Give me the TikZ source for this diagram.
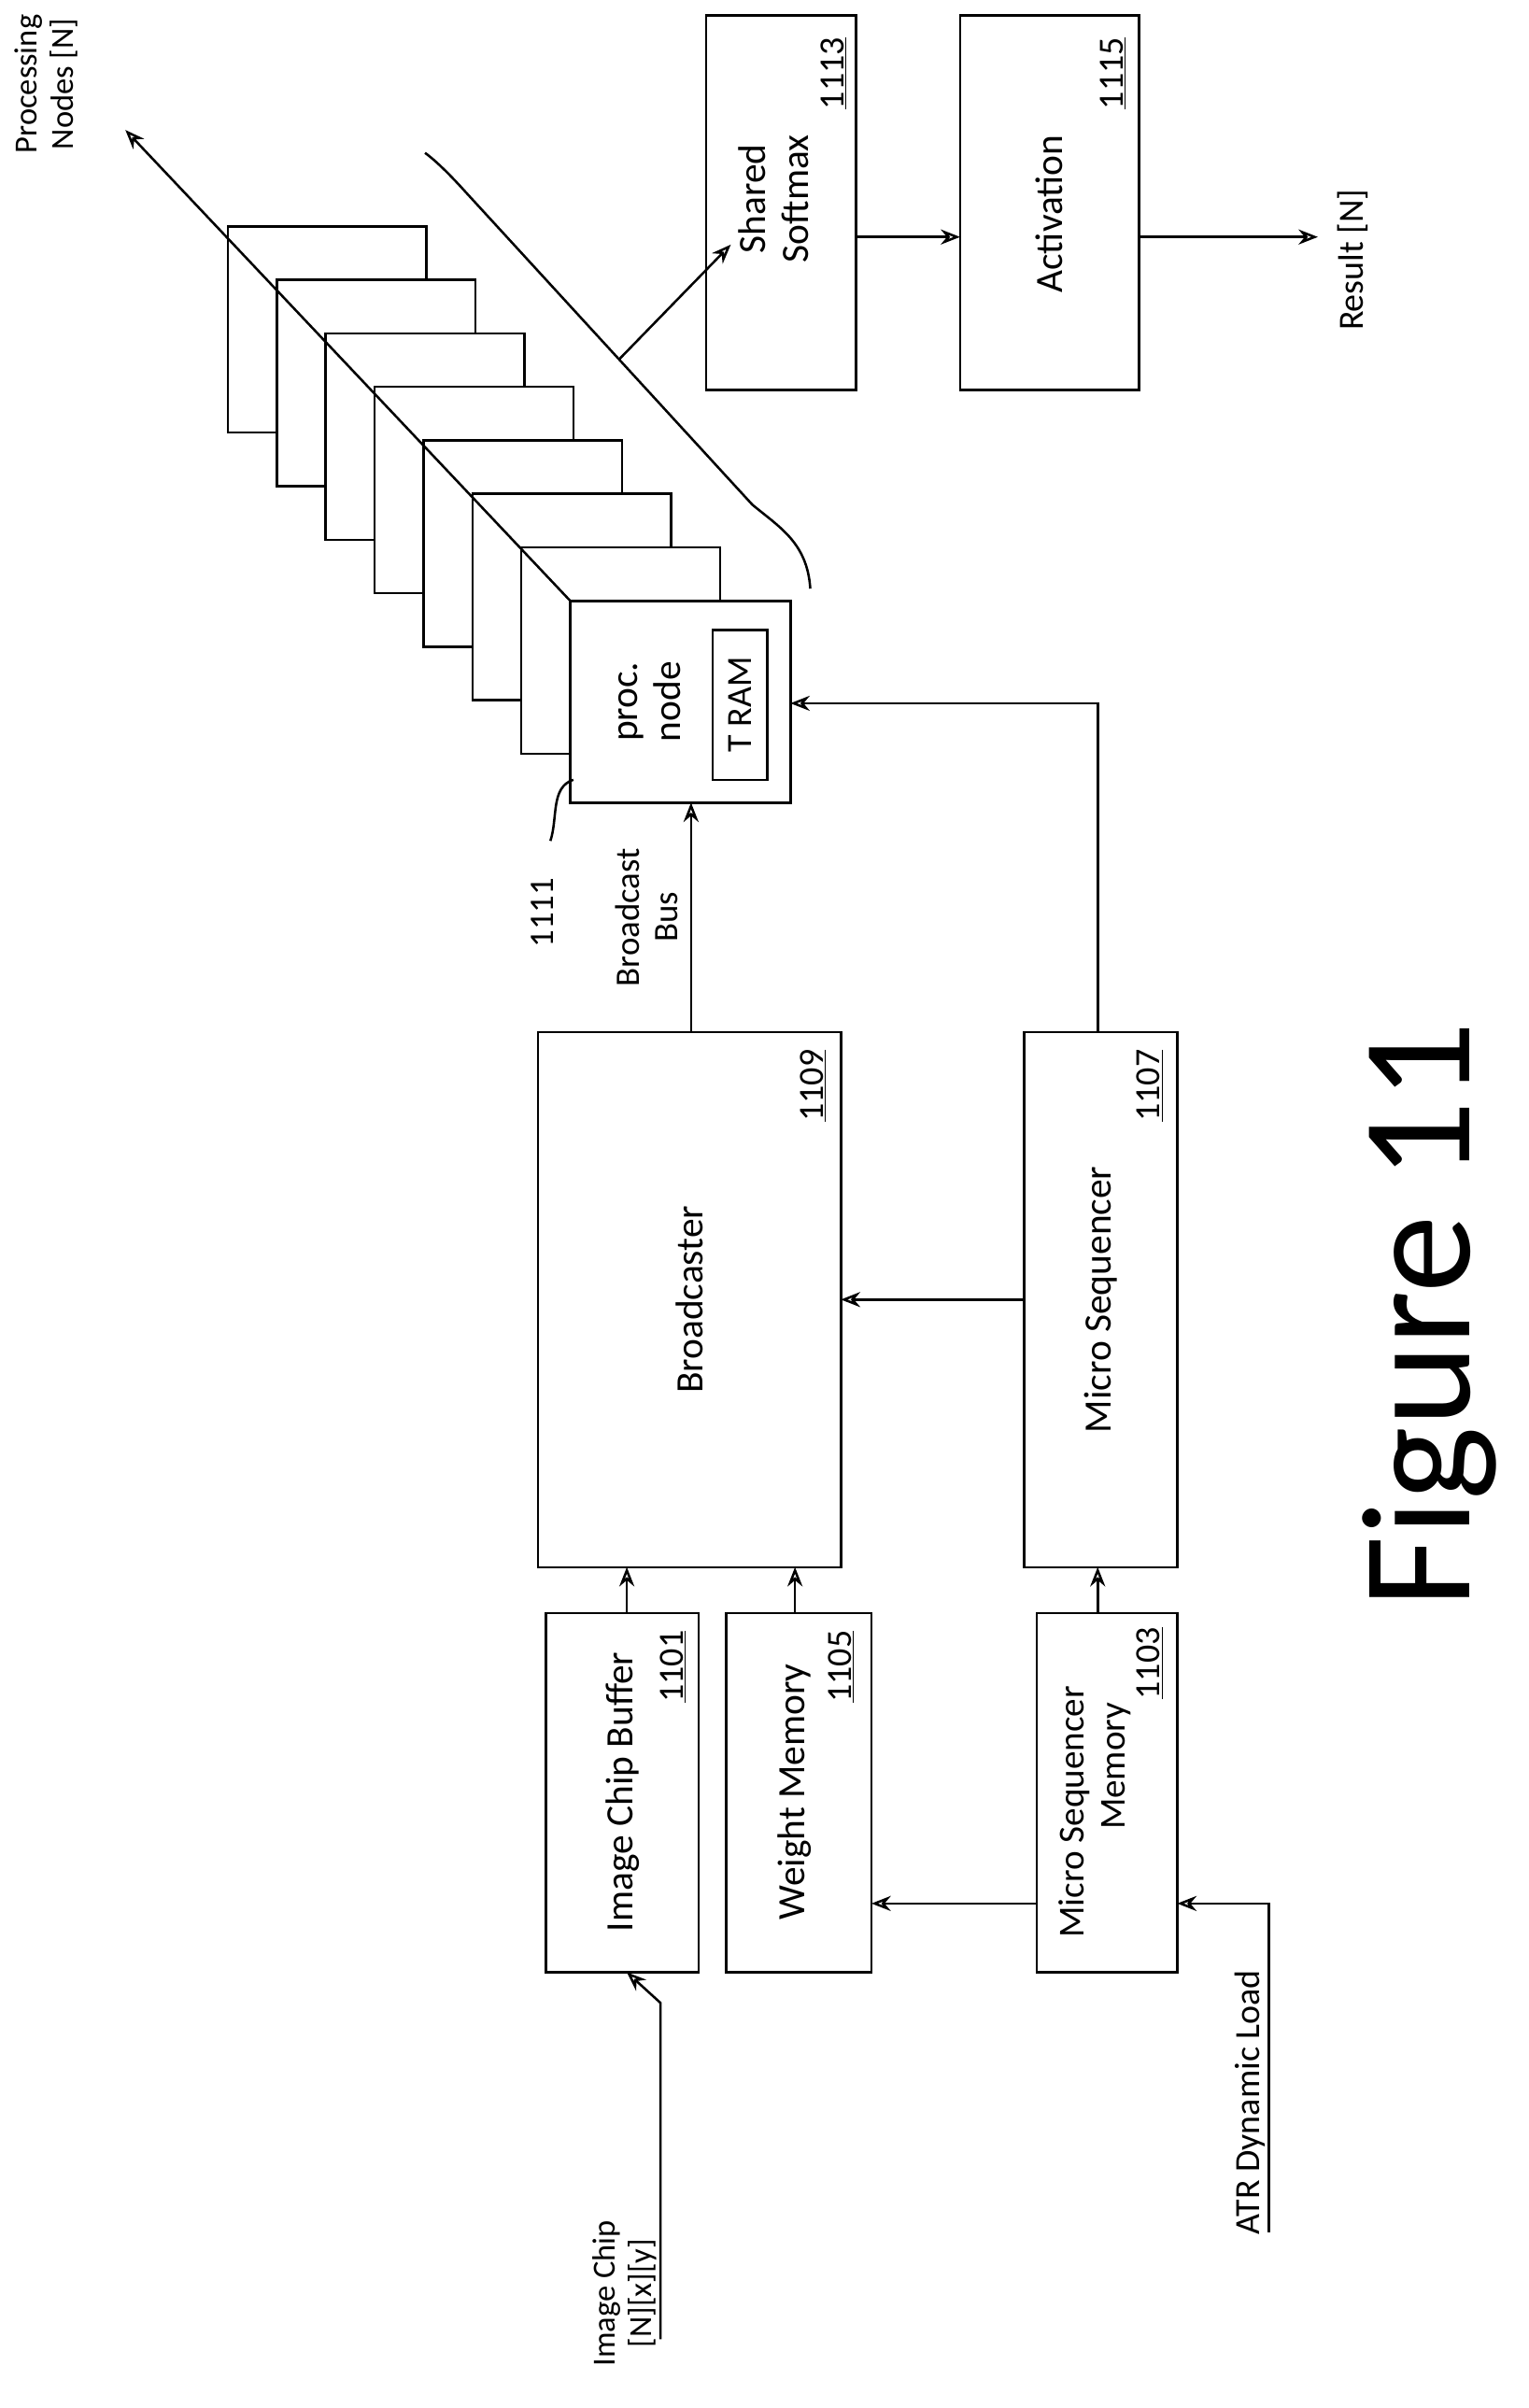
\documentclass[tikz,border=0pt]{standalone}
\usepackage{fontspec}
\setmainfont{Carlito}
\usetikzlibrary{arrows.meta}
\begin{document}
\begin{tikzpicture}[x=0.05cm,y=-0.05cm,
  box/.style={draw,line width=2.2pt,fill=white},
  lbl/.style={rotate=90,font=\fontsize{36}{40}\selectfont,align=center},
  num/.style={rotate=90,font=\fontsize{33}{37}\selectfont},
  arr/.style={line width=2.2pt,-{Stealth[length=18pt,width=14pt,open]}},
  ln/.style={line width=2.2pt}]
\useasboundingbox (0,0) rectangle (1000,1575);
% boxes
\draw[box] (357,1055) rectangle (457,1290);
\node[lbl] (ticb) at (407,1172) {Image Chip Buffer};
\node[num] at (440,1090) {\underline{1101}};
\draw[box] (475,1055) rectangle (570,1290);
\node[lbl] (twm) at (520,1172) {Weight Memory};
\node[num] at (550,1090) {\underline{1105}};
\draw[box] (678,1055) rectangle (770,1290);
\node[lbl,font=\fontsize{34}{38}\selectfont] (tmsm) at (716,1185) {Micro Sequencer\\\hspace*{2.5em}Memory};
\node[num] at (752,1088) {\underline{1103}};
\draw[box] (352,675) rectangle (550,1025);
\node[lbl] (tbc) at (451,850) {Broadcaster};
\node[num] at (532,710) {\underline{1109}};
\draw[box] (670,675) rectangle (770,1025);
\node[lbl] (tms) at (720,850) {Micro Sequencer};
\node[num] at (752,710) {\underline{1107}};
% stacked processing nodes
\foreach \k in {7,6,...,1}{
  \draw[box] ({373-32*\k},{393-35*\k}) rectangle ({373-32*\k+130},{393-35*\k+135});
}
\draw[box] (373,393) rectangle (517,525);
\node[lbl,anchor=north] (tpn) at (402,459) {proc.\\node};
\draw[box] (466,412) rectangle (502,510);
\node[lbl,font=\fontsize{33}{37}\selectfont] (tram) at (484,461) {T RAM};
\draw[arr] (373,393) -- (82,85);
\node[rotate=90,align=center,font=\fontsize{30}{34}\selectfont] (pnl) at (30,55) {Processing\\Nodes [N]};
% brace
\coordinate (bm) at (405,235);
\draw[ln] (530,385) .. controls (528,355) and (510,345) .. (492,330)
  -- (304,125) .. controls (295,115) and (285,105) .. (278,100);
% softmax & activation
\draw[box] (462,10) rectangle (560,255);
\node[lbl] (tsm) at (506,130) {Shared\\Softmax};
\node[num] at (545,48) {\underline{1113}};
\draw[box] (628,10) rectangle (745,255);
\node[lbl] (tact) at (686,140) {Activation};
\node[num] at (728,48) {\underline{1115}};
\draw[arr] (bm) -- (478,160);
\draw[arr] (560,155) -- (628,155);
\draw[arr] (745,155) -- (862,155);
\node[num] (res) at (885,170) {Result [N]};
% connections
\draw[arr] (452,675) -- (452,525);
\node[lbl,font=\fontsize{32}{36}\selectfont] (bb) at (423,600) {Broadcast\\Bus};
\node[num,font=\fontsize{32}{36}\selectfont] (n1111) at (355,597) {1111};
\draw[ln] (375,510) .. controls (360,515) and (365,535) .. (360,550);
\draw[arr] (718,675) -- (718,460) -- (517,460);
\draw[arr] (670,850) -- (550,850);
\draw[arr] (410,1055) -- (410,1025);
\draw[arr] (520,1055) -- (520,1025);
\draw[arr] (718,1055) -- (718,1025);
\draw[arr] (678,1245) -- (570,1245);
\draw[arr] (830,1460) -- (830,1245) -- (770,1245);
\node[num,anchor=south] (atr) at (830,1375) {ATR Dynamic Load};
\draw[arr] (432,1530) -- (432,1310) -- (410,1290);
\node[lbl,font=\fontsize{30}{34}\selectfont,anchor=south] (ic) at (432,1500) {Image Chip\\{}[N][x][y]};
\node[rotate=90,font=\fontsize{145}{155}\selectfont] (fig) at (935,860) {Figure 11};
\end{tikzpicture}
\end{document}
